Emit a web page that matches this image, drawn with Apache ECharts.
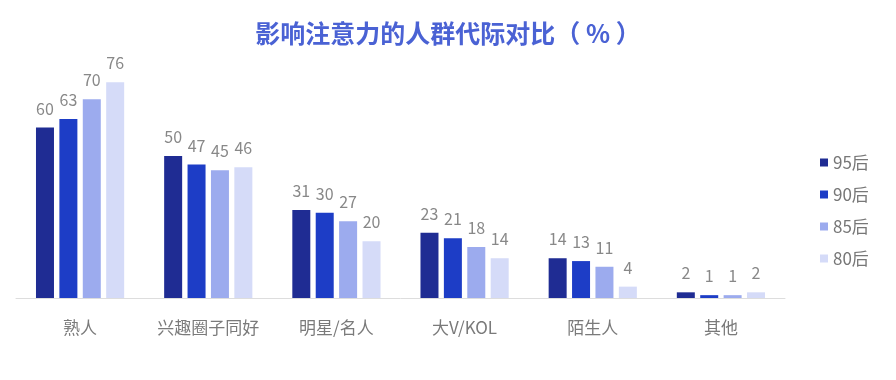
<!DOCTYPE html>
<html>
<head>
<meta charset="utf-8">
<script src="https://cdn.jsdelivr.net/npm/echarts@6/dist/echarts.min.js"></script>
<style>
html,body{margin:0;padding:0;background:#fff;}
#chart{width:896px;height:380px;}
</style>
</head>
<body>
<div id="chart"></div>
<script>
var titleText = '影响注意力的人群代际对比（ % ）';
var categories = ['熟人', '兴趣圈子同好', '明星/名人', '大V/KOL', '陌生人', '其他'];
var seriesNames = ['95后', '90后', '85后', '80后'];
var v95 = [60, 50, 31, 23, 14, 2];
var v90 = [63, 47, 30, 21, 13, 1];
var v85 = [70, 45, 27, 18, 11, 1];
var v80 = [76, 46, 20, 14, 4, 2];

var colors = ['#1f2c93', '#1d3dc6', '#9cabee', '#d5dbf8'];
var FONT = '"Noto Sans CJK SC", "Noto Sans", sans-serif';
var values = [v95, v90, v85, v80];

var series = seriesNames.map(function (name, i) {
  return {
    name: name,
    type: 'bar',
    data: values[i],
    barWidth: 18,
    barGap: '30%',
    itemStyle: { color: colors[i] },
    label: {
      show: true,
      position: 'top',
      distance: 11,
      color: '#888888',
      fontSize: 16,
      fontFamily: FONT
    }
  };
});

var chart = echarts.init(document.getElementById('chart'), null, { renderer: 'canvas' });
chart.setOption({
  animation: false,
  backgroundColor: '#ffffff',
  title: {
    text: titleText,
    left: 'center',
    top: 16,
    textStyle: { color: '#4a62d4', fontSize: 25, fontWeight: 'bold', fontFamily: FONT }
  },
  legend: {
    data: seriesNames,
    orient: 'vertical',
    left: 815,
    top: 149,
    itemWidth: 8,
    itemHeight: 8,
    itemGap: 15,
    icon: 'rect',
    textStyle: { color: '#777777', fontSize: 17, fontFamily: FONT, lineHeight: 16 }
  },
  grid: { left: 16, right: 111, top: 14, bottom: 82 },
  xAxis: {
    type: 'category',
    data: categories,
    axisLine: { show: true, lineStyle: { color: '#dddddd', width: 1 } },
    axisTick: { show: false },
    axisLabel: { color: '#7a7a7a', fontSize: 17, margin: 21, interval: 0, fontFamily: FONT }
  },
  yAxis: {
    type: 'value',
    min: 0,
    max: 100,
    show: false,
    splitLine: { show: false }
  },
  series: series
});
</script>
</body>
</html>
